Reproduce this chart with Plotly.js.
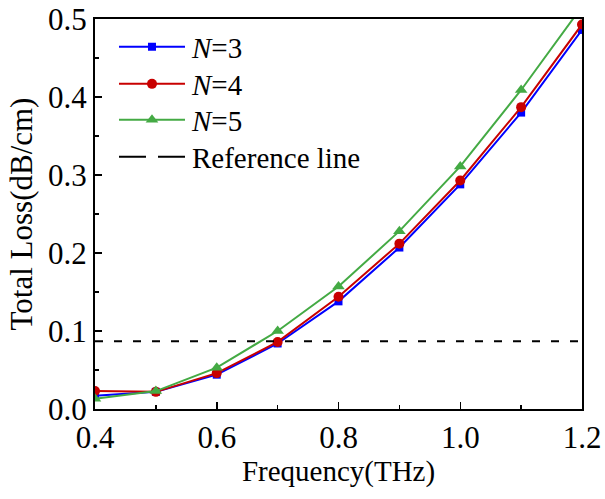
<!DOCTYPE html>
<html>
<head>
<meta charset="utf-8">
<script src="https://cdn.plot.ly/plotly-3.0.1.min.js"></script>
<style>html,body{margin:0;padding:0;background:#fff;}#chart{width:605px;height:499px;}</style>
</head>
<body>
<div id="chart"></div>
<script>
const frequency = [0.4, 0.5, 0.6, 0.7, 0.8, 0.9, 1.0, 1.1, 1.2];
const lossN3 = [0.017, 0.022, 0.044, 0.084, 0.138, 0.207, 0.288, 0.380, 0.486];
const lossN4 = [0.023, 0.022, 0.046, 0.086, 0.144, 0.212, 0.293, 0.387, 0.493];
const lossN5 = [0.013, 0.023, 0.053, 0.100, 0.157, 0.228, 0.311, 0.409, 0.516];
const referenceX = [0.4, 1.2];
const referenceY = [0.087, 0.087];
const seriesNames = ['<i>N</i>=3', '<i>N</i>=4', '<i>N</i>=5', 'Reference line'];
const xTickVals = [0.4, 0.6, 0.8, 1.0, 1.2];
const xTickText = ['0.4', '0.6', '0.8', '1.0', '1.2'];
const yTickVals = [0, 0.1, 0.2, 0.3, 0.4, 0.5];
const yTickText = ['0.0', '0.1', '0.2', '0.3', '0.4', '0.5'];

const font = 'Liberation Serif';
const traces = [
  {x: frequency, y: lossN3, name: seriesNames[0], legend: 'legend', mode: 'lines+markers',
   line: {color: '#0000ff', width: 2}, marker: {symbol: 'square', size: 8, color: '#0000ff'}},
  {x: frequency, y: lossN4, name: seriesNames[1], legend: 'legend2', mode: 'lines+markers',
   line: {color: '#c80000', width: 2}, marker: {symbol: 'circle', size: 10, color: '#c80000'}},
  {x: frequency, y: lossN5, name: seriesNames[2], legend: 'legend3', mode: 'lines+markers',
   line: {color: '#44aa44', width: 2}, marker: {symbol: 'triangle-up', size: 11, color: '#44aa44'}},
  {x: referenceX, y: referenceY, name: seriesNames[3], legend: 'legend4', mode: 'lines',
   line: {color: '#000000', width: 2, dash: '8px,11px'}}
];

const axisCommon = {
  showline: true, linecolor: '#000', linewidth: 2, mirror: true,
  showgrid: false, zeroline: false,
  ticks: 'inside', ticklen: 7, tickwidth: 1.5, tickcolor: '#000',
  tickfont: {family: font, size: 31, color: '#000'},
  minor: {ticks: 'inside', ticklen: 4, tickwidth: 1.5, tickcolor: '#000'}
};

function legendAt(yPix) {
  return {x: 0.039, y: (409 - yPix) / 390, xanchor: 'left', yanchor: 'middle',
    bgcolor: 'rgba(0,0,0,0)', borderwidth: 0, itemwidth: 68,
    font: {family: font, size: 29, color: '#000'}};
}

const layout = {
  width: 605, height: 499,
  margin: {l: 95, r: 23, t: 19, b: 90},
  paper_bgcolor: '#fff', plot_bgcolor: '#fff',
  showlegend: true,
  legend: legendAt(47), legend2: legendAt(84), legend3: legendAt(120), legend4: legendAt(157),
  xaxis: Object.assign({}, axisCommon, {
    range: [0.4, 1.2], tickvals: xTickVals, ticktext: xTickText,
    minor: Object.assign({}, axisCommon.minor, {tickvals: [0.5, 0.7, 0.9, 1.1]}),
    title: {text: 'Frequency(THz)', font: {family: font, size: 29, color: '#000'}, standoff: 6}
  }),
  yaxis: Object.assign({}, axisCommon, {
    range: [0, 0.5], tickvals: yTickVals, ticktext: yTickText,
    minor: Object.assign({}, axisCommon.minor, {tickvals: [0.05, 0.15, 0.25, 0.35, 0.45]}),
    title: {text: 'Total Loss(dB/cm)', font: {family: font, size: 31, color: '#000'}, standoff: 6}
  })
};

Plotly.newPlot('chart', traces, layout, {displayModeBar: false, staticPlot: true}).then(function () {
  document.querySelectorAll('g.traces').forEach(function (item) {
    item.querySelectorAll('.legendlines path').forEach(function (p) {
      p.setAttribute('d', 'M5,0h66');
      if ((p.style.strokeDasharray || '') !== '' && p.style.strokeDasharray !== 'none') {
        p.style.strokeDasharray = '27px,12px';
      }
    });
    item.querySelectorAll('.legendpoints path').forEach(function (p) {
      p.setAttribute('transform', 'translate(38,0)');
    });
  });
});
</script>
</body>
</html>
